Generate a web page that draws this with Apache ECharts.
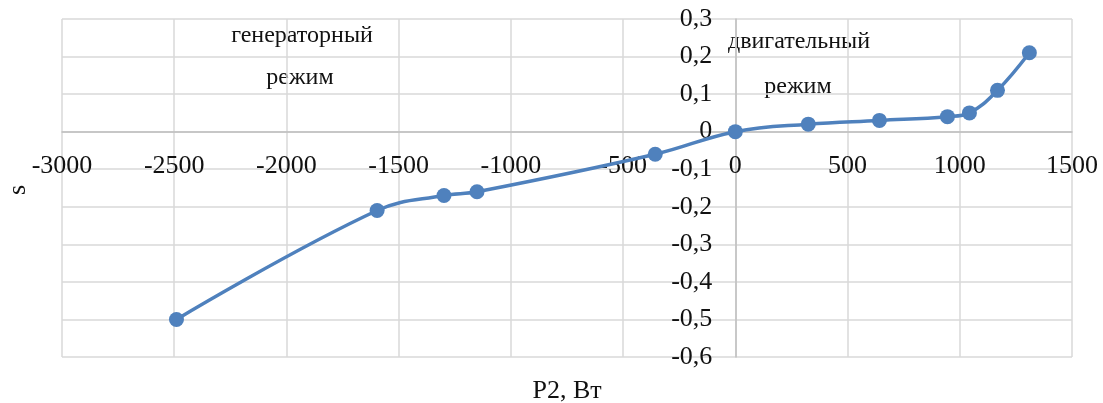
<!DOCTYPE html>
<html>
<head>
<meta charset="utf-8">
<script src="https://cdn.jsdelivr.net/npm/echarts@6/dist/echarts.min.js"></script>
<style>
  html, body { margin: 0; padding: 0; background: #fff; }
  #chart { width: 1103px; height: 403px; }
</style>
</head>
<body>
<div id="chart"></div>
<script>
// Slip s versus output power P2 (W)
const powerW = [-2490, -1596, -1298, -1151, -357, 0, 325, 642, 945, 1043, 1168, 1310];
const slip   = [-0.50, -0.21, -0.17, -0.16, -0.06, 0, 0.02, 0.03, 0.04, 0.05, 0.11, 0.21];
const modeLabels = ['генераторный', 'режим', 'двигательный', 'режим'];
const xTitle = 'P2, Вт';
const yTitle = 's';

const font = '"Liberation Serif", "DejaVu Serif", serif';
const textColor = '#111';
const lineColor = '#4f81bd';

const X_MIN = -3000, X_MAX = 1500, Y_MIN = -0.6, Y_MAX = 0.3;
const W = 1103, H = 403;
const gridBox = { left: 62, right: 31, top: 19, bottom: 46 };
const plotW = W - gridBox.left - gridBox.right;
const plotH = H - gridBox.top - gridBox.bottom;
// axes cross at (0, 0): shift each axis from the grid edge to the zero line
const xAxisShift = plotH * (0 - Y_MIN) / (Y_MAX - Y_MIN);
const yAxisShift = plotW * (0 - X_MIN) / (X_MAX - X_MIN);

const fmtComma = v => {
  if (Math.abs(v) < 1e-9) return '0';
  return v.toFixed(1).replace('.', ',');
};

const chart = echarts.init(document.getElementById('chart'));

chart.setOption({
  animation: false,
  grid: gridBox,
  xAxis: {
    type: 'value',
    position: 'bottom',
    offset: -xAxisShift,
    min: X_MIN, max: X_MAX, interval: 500,
    axisLine: { onZero: false, lineStyle: { color: '#bfbfbf', width: 1.5 } },
    axisTick: { show: false },
    axisLabel: { color: textColor, fontFamily: font, fontSize: 26, margin: 22, formatter: v => String(v) },
    splitLine: { show: true, lineStyle: { color: '#d9d9d9', width: 1.5 } }
  },
  yAxis: {
    type: 'value',
    position: 'left',
    offset: -yAxisShift,
    min: Y_MIN, max: Y_MAX, interval: 0.1,
    axisLine: { show: true, onZero: false, lineStyle: { color: '#bfbfbf', width: 1.5 } },
    axisTick: { show: false },
    axisLabel: { color: textColor, fontFamily: font, fontSize: 26, margin: 23, formatter: fmtComma },
    splitLine: { show: true, lineStyle: { color: '#d9d9d9', width: 1.5 } }
  },
  series: [{
    type: 'line',
    data: powerW.map((p, i) => [p, slip[i]]),
    smooth: 0.4,
    symbol: 'circle',
    symbolSize: 15,
    lineStyle: { color: lineColor, width: 3.5 },
    itemStyle: { color: lineColor }
  }],
  graphic: [
    { type: 'text', x: 302, y: 36, style: { text: modeLabels[0], font: '24px ' + font, fill: textColor, align: 'center', verticalAlign: 'middle' } },
    { type: 'text', x: 300, y: 78, style: { text: modeLabels[1], font: '24px ' + font, fill: textColor, align: 'center', verticalAlign: 'middle' } },
    { type: 'text', x: 799, y: 42, style: { text: modeLabels[2], font: '24px ' + font, fill: textColor, align: 'center', verticalAlign: 'middle' } },
    { type: 'text', x: 798, y: 87, style: { text: modeLabels[3], font: '24px ' + font, fill: textColor, align: 'center', verticalAlign: 'middle' } },
    { type: 'text', x: 567, y: 391, style: { text: xTitle, font: '26px ' + font, fill: textColor, align: 'center', verticalAlign: 'middle' } },
    { type: 'text', x: 18, y: 190, rotation: Math.PI / 2, style: { text: yTitle, font: '26px ' + font, fill: textColor, align: 'center', verticalAlign: 'middle' } }
  ]
});
</script>
</body>
</html>
